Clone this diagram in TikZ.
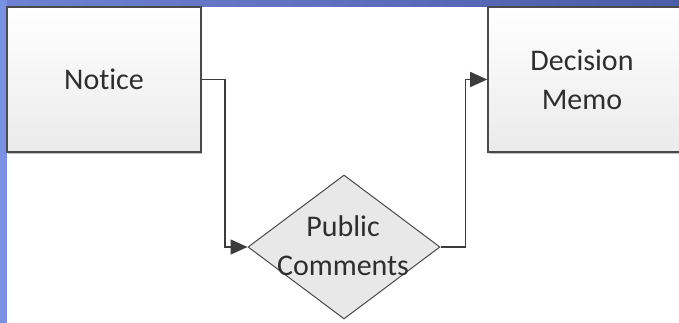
\documentclass[tikz,border=0pt]{standalone}
\usepackage{fontspec}
\setmainfont{Carlito}[RawFeature={-liga}]
\usetikzlibrary{arrows.meta,shapes.geometric,shadows}
\definecolor{edgegray}{HTML}{4A4A4A}
\definecolor{linegray}{HTML}{3C3C3C}
\definecolor{textgray}{HTML}{2E2E2E}
\definecolor{bandtopL}{HTML}{6F82D2}
\definecolor{bandtopR}{HTML}{4B5CA8}
\definecolor{bandleft}{HTML}{7A90E2}
\tikzset{
  procbox/.style={draw=edgegray, line width=1.6pt, top color=white, bottom color=black!8,
    drop shadow={shadow xshift=1pt, shadow yshift=-2pt, opacity=0.25, fill=black},
    inner sep=0pt},
  decbox/.style={diamond, draw=edgegray, line width=1pt, fill=black!9, inner sep=0pt,
    minimum width=192pt, minimum height=144pt},
  lbl/.style={font=\fontsize{30}{39}\selectfont, text=textgray, align=center, inner sep=0pt},
  conn/.style={draw=linegray, line width=1.5pt, -{Triangle[length=17pt,width=15pt]}}
}
\begin{document}
\begin{tikzpicture}[x=1pt,y=-1pt]
\useasboundingbox (0,0) rectangle (679,323);
\clip (0,0) rectangle (679,323);
\fill[white] (0,0) rectangle (679,323);
\shade[left color=bandtopL, right color=bandtopR] (0,0) rectangle (679,6.5);
\fill[bandleft] (0,0) rectangle (6.5,323);
\node[procbox, minimum width=194pt, minimum height=145pt] (notice) at (104,79.5) {};
\node[lbl] (noticetext) at (notice.center) {Notice};
\node[procbox, minimum width=200pt, minimum height=145pt] (memo) at (588,79.5) {};
\node[lbl] (memotext) at (582,80) {Decision\\Memo};
\node[decbox] (pc) at (344,247) {};
\node[lbl] (pctext) at (343,246) {Public\\Comments};
\draw[conn] (notice.east) -- ++(23,0) |- (pc.west);
\draw[conn] (pc.east) -- ++(25,0) |- (memo.west);
\end{tikzpicture}
\end{document}
